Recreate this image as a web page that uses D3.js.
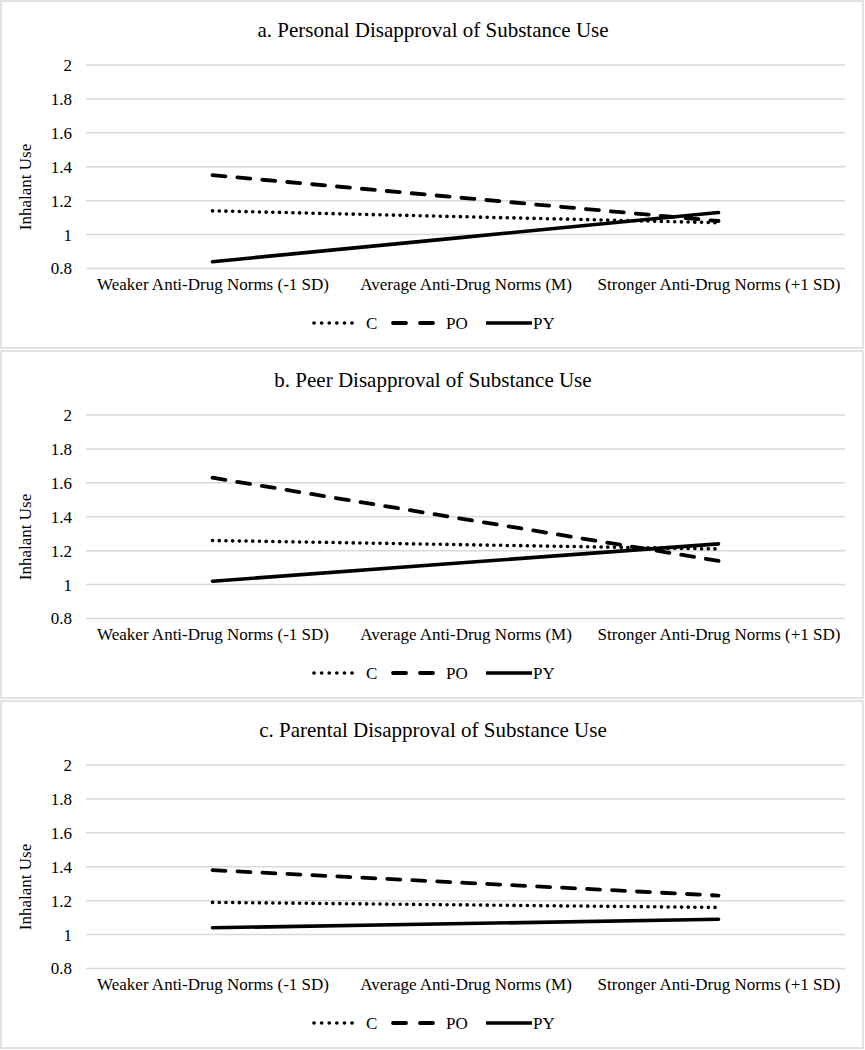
<!DOCTYPE html>
<html>
<head>
<meta charset="utf-8">
<script src="https://cdn.jsdelivr.net/npm/d3@7"></script>
<style>
  body { margin: 0; background: #fff; }
  text { font-family: "Liberation Serif", "Times New Roman", serif; fill: #000; }
</style>
</head>
<body>
<svg id="chart" width="865" height="1050"></svg>
<script>
// data
const categories = ['Weaker Anti-Drug Norms (-1 SD)', 'Average Anti-Drug Norms (M)', 'Stronger Anti-Drug Norms (+1 SD)'];
const panelTitles = ['a. Personal Disapproval of Substance Use', 'b. Peer Disapproval of Substance Use', 'c. Parental Disapproval of Substance Use'];
const yTicks = [0.8, 1, 1.2, 1.4, 1.6, 1.8, 2];
const seriesNames = ['C', 'PO', 'PY'];
// [low, high] per panel; the middle point sits on the straight line between them
const valuesC  = [[1.14, 1.07], [1.26, 1.21], [1.19, 1.16]];
const valuesPO = [[1.35, 1.08], [1.63, 1.14], [1.38, 1.23]];
const valuesPY = [[0.84, 1.13], [1.02, 1.24], [1.04, 1.09]];

const styles = {
  C:  { dash: '0.1 6.6', cap: 'round', width: 3.6 },
  PO: { dash: '13 12', cap: 'round', width: 3.8 },
  PY: { dash: null, cap: 'round', width: 3.6 }
};

const svg = d3.select('#chart');
const panelH = 350;
const fontSize = 17;

const x = d3.scalePoint()
  .domain(categories)
  .range([86, 845])
  .padding(0.5);

const y = d3.scaleLinear()
  .domain([0.8, 2])
  .range([268.5, 65]);

const allValues = { C: valuesC, PO: valuesPO, PY: valuesPY };

panelTitles.forEach((title, i) => {
  const g = svg.append('g').attr('transform', `translate(0,${i * panelH})`);

  g.append('rect')
    .attr('x', 1).attr('y', 1)
    .attr('width', 862).attr('height', 347)
    .attr('fill', 'none')
    .attr('stroke', '#d9d9d9')
    .attr('stroke-width', 1.5);

  g.append('text')
    .attr('x', 433).attr('y', 37)
    .attr('text-anchor', 'middle')
    .attr('font-size', 21)
    .text(title);

  // gridlines
  g.append('g')
    .selectAll('line')
    .data(yTicks)
    .join('line')
    .attr('x1', 86).attr('x2', 845)
    .attr('y1', d => y(d)).attr('y2', d => y(d))
    .attr('stroke', '#d9d9d9')
    .attr('stroke-width', 1.5);

  // y tick labels
  const yAxis = d3.axisLeft(y).tickValues(yTicks).tickSize(0).tickPadding(14)
    .tickFormat(d => d3.format('')(d));
  g.append('g')
    .attr('transform', 'translate(86,0)')
    .call(yAxis)
    .call(a => a.select('.domain').remove())
    .call(a => a.selectAll('text')
      .attr('font-family', '"Liberation Serif", serif')
      .attr('font-size', fontSize)
      .attr('fill', '#000'));

  g.append('text')
    .attr('transform', 'translate(31,187) rotate(-90)')
    .attr('text-anchor', 'middle')
    .attr('font-size', fontSize)
    .text('Inhalant Use');

  // x category labels
  const xAxis = d3.axisBottom(x).tickSize(0).tickPadding(0);
  g.append('g')
    .attr('transform', 'translate(0,278)')
    .call(xAxis)
    .call(a => a.select('.domain').remove())
    .call(a => a.selectAll('text')
      .attr('font-family', '"Liberation Serif", serif')
      .attr('font-size', fontSize)
      .attr('fill', '#000'));

  const line = d3.line().x(d => x(d.cat)).y(d => y(d.v));

  seriesNames.forEach(name => {
    const [lo, hi] = allValues[name][i];
    const pts = [
      { cat: categories[0], v: lo },
      { cat: categories[1], v: (lo + hi) / 2 },
      { cat: categories[2], v: hi }
    ];
    const s = styles[name];
    g.append('path')
      .datum(pts)
      .attr('d', line)
      .attr('fill', 'none')
      .attr('stroke', '#000')
      .attr('stroke-width', s.width)
      .attr('stroke-linecap', s.cap)
      .attr('stroke-dasharray', s.dash);
  });

  // legend
  const legendItems = [
    { name: 'C', x1: 314, x2: 357, tx: 366 },
    { name: 'PO', x1: 393, x2: 438, tx: 446 },
    { name: 'PY', x1: 486, x2: 532, tx: 533 }
  ];
  const lg = g.append('g').attr('transform', 'translate(0,323)');
  legendItems.forEach(it => {
    const s = styles[it.name];
    lg.append('line')
      .attr('x1', it.x1).attr('x2', it.x2)
      .attr('y1', 0).attr('y2', 0)
      .attr('stroke', '#000')
      .attr('stroke-width', s.width)
      .attr('stroke-linecap', it.name === 'PY' ? 'butt' : s.cap)
      .attr('stroke-dasharray', it.name === 'PO' ? '13 14' : (it.name === 'C' ? '0.1 7.5' : null));
    lg.append('text')
      .attr('x', it.tx).attr('y', 6)
      .attr('font-size', fontSize)
      .text(it.name);
  });
});
</script>
</body>
</html>
